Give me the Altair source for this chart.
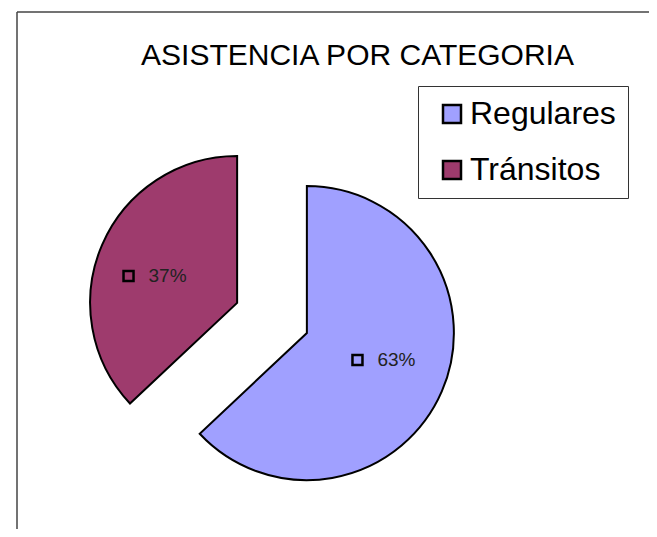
import altair as alt
import pandas as pd

# ---- data ----
categories = ["Regulares", "Tránsitos"]
values = [63, 37]
colors = ["#A0A0FF", "#9E3B6D"]
title_text = "ASISTENCIA POR CATEGORIA"

# ---- layout / style constants ----
W, H = 641, 521
CX, CY = 264, 310        # centre of the (unexploded) pie
R = 147                  # pie radius
EXPLODE = 38             # explosion distance of each slice
KX, KY = 0.59, 0.46      # label position factors along slice bisector
FONT = "Liberation Sans"

df = pd.DataFrame({
    "category": categories,
    "value": values,
    "order": list(range(len(categories))),
})

color_scale = alt.Scale(domain=categories, range=colors)

base = (
    alt.Chart(df)
    .transform_joinaggregate(total="sum(value)")
    .transform_window(cum="sum(value)", sort=[alt.SortField("order")], frame=[None, 0])
    .transform_calculate(t1="datum.cum / datum.total * 2 * PI")
    .transform_calculate(t0="(datum.cum - datum.value) / datum.total * 2 * PI")
    .transform_calculate(mid="(datum.t0 + datum.t1) / 2")
    .transform_calculate(px=f"{CX} + {EXPLODE} * sin(datum.mid)")
    .transform_calculate(py=f"{CY} - {EXPLODE} * cos(datum.mid)")
    .transform_calculate(lx=f"datum.px + {KX * R} * sin(datum.mid)")
    .transform_calculate(ly=f"datum.py - {KY * R} * cos(datum.mid)")
    .transform_calculate(pct="format(datum.value / datum.total, '.0%')")
)

arcs = base.mark_arc(radius=R, stroke="black", strokeWidth=2).encode(
    x=alt.X("px:Q", scale=None, axis=None),
    y=alt.Y("py:Q", scale=None, axis=None),
    theta=alt.Theta("t0:Q", scale=None),
    theta2="t1:Q",
    color=alt.Color(
        "category:N",
        scale=color_scale,
        sort=categories,
        legend=alt.Legend(
            title=None,
            orient="none",
            legendX=410,
            legendY=78,
            direction="vertical",
            strokeColor="#333333",
            padding=12,
            symbolType="square",
            symbolSize=324,
            symbolStrokeColor="black",
            symbolStrokeWidth=2.5,
            symbolOffset=6,
            labelFont=FONT,
            labelFontSize=32,
            labelColor="black",
            labelOffset=2,
            rowPadding=24,
            labelLimit=400,
        ),
    ),
)

markers = base.mark_point(
    shape="square", filled=True, size=100, stroke="black", strokeWidth=2.5,
    xOffset=-29, opacity=1, fillOpacity=1,
).encode(
    x=alt.X("lx:Q", scale=None, axis=None),
    y=alt.Y("ly:Q", scale=None, axis=None),
    fill=alt.Fill("category:N", scale=color_scale, legend=None),
)

labels = base.mark_text(
    align="left", baseline="middle", dx=-9, font=FONT, fontSize=19, color="#222222"
).encode(
    x=alt.X("lx:Q", scale=None, axis=None),
    y=alt.Y("ly:Q", scale=None, axis=None),
    text="pct:N",
)

frame_src = alt.Data(values=[{"f": 1}])
frame_top = alt.Chart(frame_src).mark_rule(color="#444444", strokeWidth=1.5).encode(
    x=alt.value(9), x2=alt.value(W), y=alt.value(4)
)
frame_left = alt.Chart(frame_src).mark_rule(color="#444444", strokeWidth=1.5).encode(
    x=alt.value(9), y=alt.value(4), y2=alt.value(H)
)

chart = (
    alt.layer(frame_top, frame_left, arcs, markers, labels)
    .properties(
        width=W,
        height=H,
        padding=0,
        autosize="none",
        title=alt.Title(
            text=title_text,
            font=FONT,
            fontSize=30,
            fontWeight="normal",
            color="black",
            anchor="middle",
            frame="group",
            dx=29,
            dy=67,
        ),
    )
    .configure_view(stroke=None)
)

chart.save("out.html", embed_options={"renderer": "svg", "actions": False})
